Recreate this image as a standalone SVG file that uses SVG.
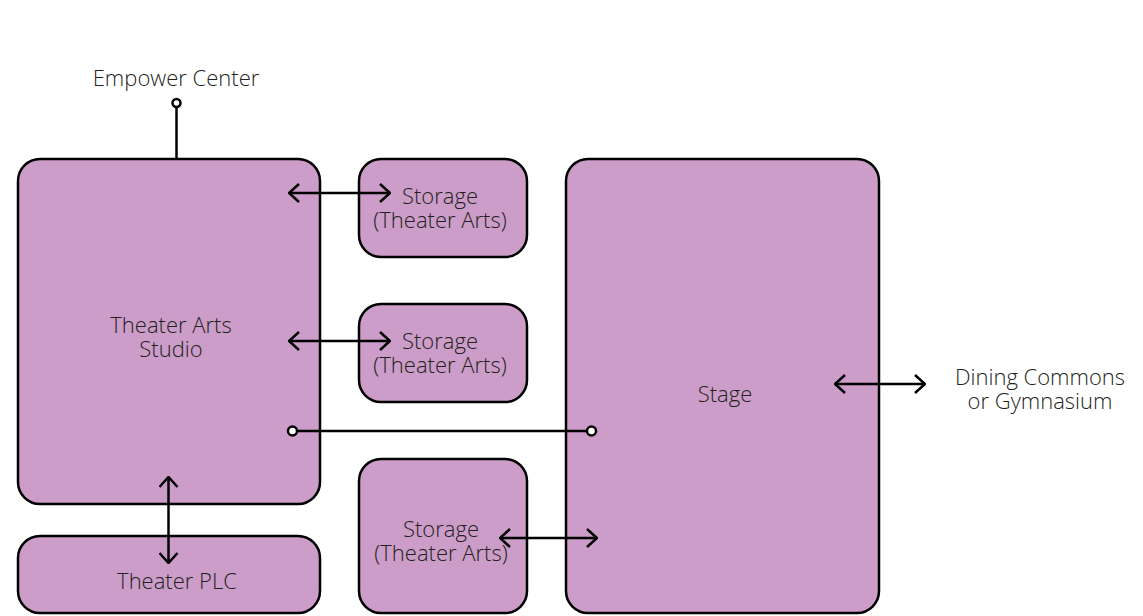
<svg xmlns="http://www.w3.org/2000/svg" width="1143" height="616" viewBox="0 0 1143 616">
<style>
.box{fill:#cb9dc8;stroke:#000;stroke-width:2.5}
.t{font-family:"Open Sans","Liberation Sans",sans-serif;font-size:22px;fill:#231f20;text-anchor:middle;font-weight:300}
.c{fill:none;stroke:#000;stroke-width:2.5}
.dot{fill:#fff;stroke:#000;stroke-width:2.5}
</style>
<defs>
<marker id="ah" viewBox="0 0 12 20" refX="11" refY="10" markerWidth="12" markerHeight="20" markerUnits="userSpaceOnUse" orient="auto-start-reverse">
<path d="M1,1 L11,10 L1,19" fill="none" stroke="#000" stroke-width="2.5"/>
</marker>
</defs>
<rect width="1143" height="616" fill="#fff"/>
<g id="studio"><rect class="box" x="18" y="159" width="302" height="345" rx="22"/><text class="t" x="171" y="333">Theater Arts</text><text class="t" x="171" y="357">Studio</text></g>
<g id="plc"><rect class="box" x="18" y="536" width="302" height="77" rx="22"/><text class="t" x="177" y="589">Theater PLC</text></g>
<g id="storage1"><rect class="box" x="359" y="159" width="168" height="98" rx="22"/><text class="t" x="440" y="204">Storage</text><text class="t" x="440" y="228">(Theater Arts)</text></g>
<g id="storage2"><rect class="box" x="359" y="304" width="168" height="98" rx="22"/><text class="t" x="440" y="349">Storage</text><text class="t" x="440" y="373">(Theater Arts)</text></g>
<g id="storage3"><rect class="box" x="359" y="459" width="168" height="154" rx="22"/><text class="t" x="441" y="537">Storage</text><text class="t" x="441" y="561">(Theater Arts)</text></g>
<g id="stage"><rect class="box" x="566" y="159" width="313" height="454" rx="22"/><text class="t" x="725" y="402">Stage</text></g>
<g id="empower"><text class="t" x="176" y="86">Empower Center</text></g>
<g id="dining"><text class="t" x="1040" y="385">Dining Commons</text><text class="t" x="1040" y="409">or Gymnasium</text></g>
<g id="connectors">
<line class="c" x1="176.5" y1="107" x2="176.5" y2="159"/>
<circle class="dot" cx="176.5" cy="103" r="4"/>
<line class="c" x1="289" y1="193" x2="390" y2="193" marker-start="url(#ah)" marker-end="url(#ah)"/>
<line class="c" x1="289" y1="341" x2="390" y2="341" marker-start="url(#ah)" marker-end="url(#ah)"/>
<line class="c" x1="297" y1="431" x2="587" y2="431"/>
<circle class="dot" cx="292.5" cy="431" r="4.5"/>
<circle class="dot" cx="591.5" cy="431" r="4.5"/>
<line class="c" x1="500" y1="538" x2="597" y2="538" marker-start="url(#ah)" marker-end="url(#ah)"/>
<line class="c" x1="835" y1="384" x2="925" y2="384" marker-start="url(#ah)" marker-end="url(#ah)"/>
<line class="c" x1="168.5" y1="477" x2="168.5" y2="563" marker-start="url(#ah)" marker-end="url(#ah)"/>
</g>
</svg>
